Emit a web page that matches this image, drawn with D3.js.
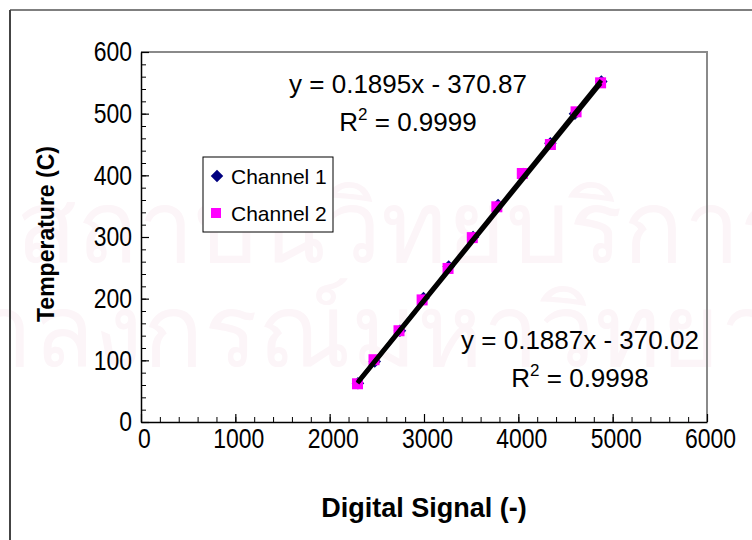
<!DOCTYPE html>
<html>
<head>
<meta charset="utf-8">
<script src="https://cdn.jsdelivr.net/npm/d3@7"></script>
<style>
  body { margin: 0; background: #fff; }
  text { font-family: "Liberation Sans", Arial, sans-serif; fill: #000; }
</style>
</head>
<body>
<script>
const w = 752;
const h = 540;

// chart values
const ch1X = [2300, 2478, 2745, 2995, 3262, 3520, 3785, 4050, 4340, 4600, 4880];
const ch1Y = [63, 98, 148, 201, 252, 300, 352, 402, 452, 500, 552];
const ch2X = [2295, 2470, 2735, 2980, 3255, 3512, 3772, 4042, 4340, 4612, 4872];
const ch2Y = [62, 101, 148, 198, 249, 299, 349, 403, 450, 503, 550];
const seriesNames = ["Channel 1", "Channel 2"];
const slopes = [0.1895, 0.1887];
const intercepts = [-370.87, -370.02];
const eqLabels = ["y = 0.1895x - 370.87", "y = 0.1887x - 370.02"];
const r2Labels = ["0.9999", "0.9998"];
const xTicks = [0, 1000, 2000, 3000, 4000, 5000, 6000];
const yTicks = [0, 100, 200, 300, 400, 500, 600];

const x = d3.scaleLinear().domain([0, 6000]).range([141, 707]);
const y = d3.scaleLinear().domain([0, 600]).range([422, 52]);

const svg = d3.select("body").append("svg")
  .attr("width", w)
  .attr("height", h);

svg.append("rect").attr("width", w).attr("height", h).attr("fill", "#fff");

// faint watermark behind the chart
svg.append("text")
  .attr("x", 16).attr("y", 262)
  .style("font-size", "100px")
  .style("fill", "#fcf5f8")
  .text("สถาบันวิทยบริการ");
svg.append("text")
  .attr("x", -150).attr("y", 366)
  .style("font-size", "100px")
  .style("fill", "#fcf5f8")
  .text("จุฬาลงกรณ์มหาวิทยาลัย");

// outer chart frame (runs off the page right and bottom)
svg.append("line").attr("x1", 10).attr("y1", 10).attr("x2", w).attr("y2", 10)
  .attr("stroke", "#000").attr("stroke-width", 1.2);
svg.append("line").attr("x1", 10).attr("y1", 10).attr("x2", 10).attr("y2", h)
  .attr("stroke", "#444").attr("stroke-width", 2);

// plot area border top / right
svg.append("path")
  .attr("d", `M${x(0)},${y(600)}H${x(6000)}V${y(0)}`)
  .attr("fill", "none")
  .attr("stroke", "#8a8a8a")
  .attr("stroke-width", 2);

// minor ticks
svg.append("g")
  .attr("transform", "translate(0," + y(0) + ")")
  .call(d3.axisBottom(x).ticks(30).tickSizeInner(-5).tickSizeOuter(0).tickFormat(""))
  .call(g => g.select(".domain").remove());
svg.append("g")
  .attr("transform", "translate(" + x(0) + ",0)")
  .call(d3.axisLeft(y).ticks(30).tickSizeInner(-5).tickSizeOuter(0).tickFormat(""))
  .call(g => g.select(".domain").remove());

const xAxis = d3.axisBottom(x)
  .tickValues(xTicks)
  .tickSizeInner(-8)
  .tickSizeOuter(0)
  .tickPadding(6)
  .tickFormat(d3.format("d"));

const yAxis = d3.axisLeft(y)
  .tickValues(yTicks)
  .tickSizeInner(-8)
  .tickSizeOuter(0)
  .tickPadding(10)
  .tickFormat(d3.format("d"));

svg.append("g")
  .attr("class", "x-axis")
  .attr("transform", "translate(0," + y(0) + ")")
  .call(xAxis);

svg.append("g")
  .attr("class", "y-axis")
  .attr("transform", "translate(" + x(0) + ",0)")
  .call(yAxis);

// narrow, tall tick labels
const sx = 0.82;
svg.selectAll(".x-axis text, .y-axis text")
  .attr("fill", "#000")
  .style("font-size", "28px");
svg.selectAll(".x-axis text")
  .attr("x", 3 / sx)
  .attr("transform", "scale(" + sx + ",1)");
svg.selectAll(".y-axis text")
  .attr("x", -9 / sx)
  .attr("transform", "scale(" + sx + ",1)");
svg.selectAll(".x-axis path, .y-axis path").attr("stroke", "#000").attr("stroke-width", 1.5);
svg.selectAll(".x-axis line, .y-axis line").attr("stroke", "#000").attr("stroke-width", 1.2);

// points
const ch1 = ch1X.map((d, i) => [d, ch1Y[i]]);
const ch2 = ch2X.map((d, i) => [d, ch2Y[i]]);

const diamond = d3.symbol().type(d3.symbolDiamond2).size(100);

svg.append("g").selectAll("path")
  .data(ch1)
  .enter().append("path")
  .attr("d", diamond)
  .attr("transform", d => "translate(" + x(d[0]) + "," + y(d[1]) + ")")
  .attr("fill", "#000080");

svg.append("g").selectAll("rect")
  .data(ch2)
  .enter().append("rect")
  .attr("x", d => x(d[0]) - 5.5)
  .attr("y", d => y(d[1]) - 5.5)
  .attr("width", 11)
  .attr("height", 11)
  .attr("fill", "#ff00ff");

// linear trend lines
[ch1X, ch2X].forEach((xs, i) => {
  const x0 = d3.min(xs), x1 = d3.max(xs);
  svg.append("line")
    .attr("x1", x(x0)).attr("y1", y(slopes[i] * x0 + intercepts[i]))
    .attr("x2", x(x1)).attr("y2", y(slopes[i] * x1 + intercepts[i]))
    .attr("stroke", "#000")
    .attr("stroke-width", 4.5);
});

// equation labels
const eqPos = [[408, 93, 131], [580, 349, 387]];
eqPos.forEach((p, i) => {
  svg.append("text")
    .attr("x", p[0]).attr("y", p[1])
    .attr("text-anchor", "middle")
    .style("font-size", "26px")
    .text(eqLabels[i]);
  const t = svg.append("text")
    .attr("x", p[0]).attr("y", p[2])
    .attr("text-anchor", "middle")
    .style("font-size", "26px");
  t.append("tspan").text("R");
  t.append("tspan").attr("dy", -11).style("font-size", "17px").text("2");
  t.append("tspan").attr("dy", 11).text(" = " + r2Labels[i]);
});

// legend
const lg = svg.append("g");
lg.append("rect")
  .attr("x", 203).attr("y", 157)
  .attr("width", 130).attr("height", 75)
  .attr("fill", "#fff")
  .attr("stroke", "#000");
lg.append("path")
  .attr("d", diamond)
  .attr("transform", "translate(217,176)")
  .attr("fill", "#000080");
lg.append("rect")
  .attr("x", 211).attr("y", 208)
  .attr("width", 10).attr("height", 10)
  .attr("fill", "#ff00ff");
lg.selectAll(".lab")
  .data(seriesNames)
  .enter().append("text")
  .attr("x", 231)
  .attr("y", (d, i) => 184 + i * 37)
  .style("font-size", "21px")
  .text(d => d);

// axis titles
svg.append("text")
  .attr("x", 424)
  .attr("y", 517)
  .attr("text-anchor", "middle")
  .style("font-weight", "bold")
  .style("font-size", "27px")
  .text("Digital Signal (-)");

svg.append("text")
  .attr("transform", "translate(54,234) rotate(-90)")
  .attr("text-anchor", "middle")
  .style("font-weight", "bold")
  .style("font-size", "23px")
  .text("Temperature (C)");
</script>
</body>
</html>
